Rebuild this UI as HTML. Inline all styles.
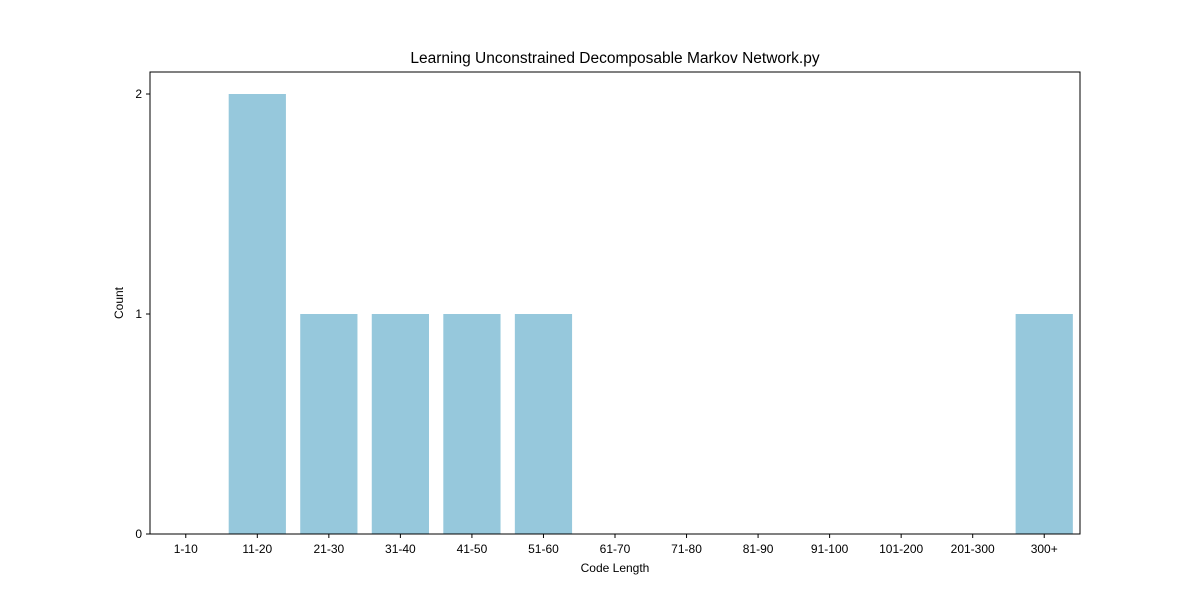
<!DOCTYPE html>
<html><head><meta charset="utf-8"><style>
body{margin:0;background:#fff;font-family:"Liberation Sans","DejaVu Sans",sans-serif;}
</style></head><body>
<svg id="chart" width="1200" height="600" xmlns="http://www.w3.org/2000/svg">
<rect width="1200" height="600" fill="#fff"/>
<text x="615" y="63" text-anchor="middle" font-size="15.5" fill="#000">Learning Unconstrained Decomposable Markov Network.py</text>
<g id="bars"></g>
<g id="xticks"></g>
<g id="yticks"></g>
<rect x="150" y="72" width="930" height="462" fill="none" stroke="#000" stroke-width="1"/>
<text x="615" y="572" text-anchor="middle" font-size="12">Code Length</text>
<text x="123" y="303" text-anchor="middle" font-size="12" transform="rotate(-90 123 303)">Count</text>
</svg>
<script>
const categories=["1-10","11-20","21-30","31-40","41-50","51-60","61-70","71-80","81-90","91-100","101-200","201-300","300+"];
const counts=[0,2,1,1,1,1,0,0,0,0,0,0,1];
const yTicks=[0,1,2];
const L=150,R=1080,T=72,B=534,yMax=2.1;
const n=categories.length;
const xs=i=>L+(i+0.5)*(R-L)/n;
const ys=v=>B-v/yMax*(B-T);
const bw=0.8*(R-L)/n;
const NS="http://www.w3.org/2000/svg";
const gb=document.getElementById('bars'),gx=document.getElementById('xticks'),gy=document.getElementById('yticks');
categories.forEach((c,i)=>{
  const v=counts[i];
  if(v>0){
    const r=document.createElementNS(NS,'rect');
    r.setAttribute('x',xs(i)-bw/2);r.setAttribute('y',ys(v));
    r.setAttribute('width',bw);r.setAttribute('height',B-ys(v));
    r.setAttribute('fill','#96c8dc');
    
    
    gb.appendChild(r);
  }
  const l=document.createElementNS(NS,'line');
  l.setAttribute('x1',xs(i));l.setAttribute('x2',xs(i));l.setAttribute('y1',B);l.setAttribute('y2',B+4);
  l.setAttribute('stroke','#000');
  
  
  gx.appendChild(l);
  const t=document.createElementNS(NS,'text');
  t.setAttribute('x',xs(i));t.setAttribute('y',B+19);t.setAttribute('text-anchor','middle');t.setAttribute('font-size','12');
  t.textContent=c;
  
  
  gx.appendChild(t);
});
yTicks.forEach(v=>{
  const l=document.createElementNS(NS,'line');
  l.setAttribute('x1',L-4);l.setAttribute('x2',L);l.setAttribute('y1',ys(v));l.setAttribute('y2',ys(v));
  l.setAttribute('stroke','#000');
  
  
  gy.appendChild(l);
  const t=document.createElementNS(NS,'text');
  t.setAttribute('x',L-8);t.setAttribute('y',ys(v)+4);t.setAttribute('text-anchor','end');t.setAttribute('font-size','12');
  t.textContent=v;
  
  
  gy.appendChild(t);
});
</script>
</body></html>
